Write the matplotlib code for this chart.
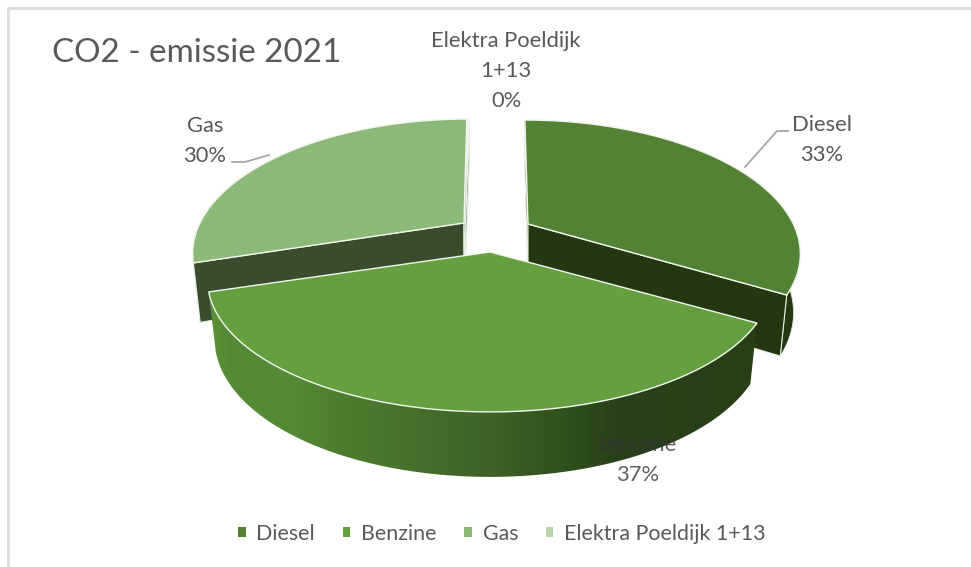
import numpy as np
import matplotlib
matplotlib.use("Agg")
import matplotlib.pyplot as plt
from matplotlib.patches import Polygon, Patch

plt.rcParams['font.family'] = ['Lato', 'DejaVu Sans']

title = "CO2 - emissie 2021"
categories = ["Diesel", "Benzine", "Gas", "Elektra Poeldijk 1+13"]
values = [33.4, 36.8, 29.7, 0.1]
top_colors = ["#548235", "#659f3f", "#8cb878", "#b9d5aa"]
wall_colors = ["#243713", "#243713", "#3a4c2e", "#8fa884"]
label_colors = ["#595959", "#333333", "#595959", "#595959"]
label_alpha = [1, 0.78, 1, 1]
label_pos = [(822, 125), (638, 445), (205, 126), (506, 41)]
label_text = ["Diesel", "Benzine", "Gas", "Elektra Poeldijk\n1+13"]

# layout of the drawn slices (pixel space)
apex = [(528, 224), (490, 252), (464, 223), (465, 223)]
shear = [-0.03, 0.0, 0.04, 0.04]
radius_scale = [0.99, 1.03, 0.985, 0.985]
R, S, K = 268.0, 126.0, 0.212
shrink = 0.975

grad_x = [205, 232, 291, 340, 486, 577, 616, 760]
grad_c = ["#5d9239", "#558a35", "#568a36", "#4f7d30", "#3f6327", "#2e4d1b", "#27411a", "#273f17"]
grad_rgb = np.array([matplotlib.colors.to_rgb(c) for c in grad_c])

fig = plt.figure(figsize=(9.71, 5.67), dpi=100)
ax = fig.add_axes([0, 0, 1, 1])
ax.axis("off")

ax.plot([7.5, 7.5, 971], [567, 8, 8], color="#dcdcdc", lw=2.0, solid_joinstyle="miter", zorder=1)


def project(i, t):
    t = np.asarray(t, float)
    u, v = np.sin(t), -np.cos(t)
    d = 1 - K * v
    ax0, ay0 = apex[i]
    y = S * v / d
    x = R * radius_scale[i] * u / d - shear[i] * y
    return ax0 + x, ay0 + y, v


def lower(i, x, y, v):
    return apex[i][0] + shrink * (x - apex[i][0]), y + 57 + 8 * v


fractions = np.array(values) / sum(values)
edges = np.concatenate([[0], np.cumsum(fractions)]) * 2 * np.pi
order = [3, 2, 0, 1]

for z, i in enumerate(order):
    zb = 10 + z * 5
    t = np.linspace(edges[i], edges[i + 1], 200)
    x, y, v = project(i, t)
    xl, yl = lower(i, x, y, v)
    a = apex[i]
    al = (a[0], a[1] + 57)
    rim = np.column_stack([np.r_[x, xl[::-1]], np.r_[y, yl[::-1]]])
    if i == 1:
        xs = np.linspace(190, 780, 590)
        img = np.stack([np.interp(xs, grad_x, grad_rgb[:, c]) for c in range(3)], axis=-1)[None, :, :]
        im = ax.imshow(img, extent=(190, 780, 500, 200), aspect="auto", zorder=zb,
                       interpolation="bilinear")
        clip = Polygon(rim, closed=True, transform=ax.transData, fc="none", ec="none")
        ax.add_patch(clip)
        im.set_clip_path(clip)
    else:
        ax.add_patch(Polygon(rim, closed=True, fc=wall_colors[i], ec="#e8efe4", lw=0.6, zorder=zb))
        for k in (0, -1):
            face = [a, (x[k], y[k]), (xl[k], yl[k]), al]
            ax.add_patch(Polygon(face, closed=True, fc=wall_colors[i], ec="#e8efe4", lw=0.8,
                                 zorder=zb + 1))
    pts = np.column_stack([np.r_[a[0], x], np.r_[a[1], y]])
    ax.add_patch(Polygon(pts, closed=True, fc=top_colors[i], ec="#f2f6ef", lw=1.0, zorder=zb + 2))

ax.set_xlim(0, 971)
ax.set_ylim(567, 0)

# leader lines
ax.plot([745, 777, 788], [167, 131, 131], color="#a6a6a6", lw=1.3, zorder=5)
ax.plot([232, 245, 269], [162, 162, 155], color="#a6a6a6", lw=1.3, zorder=5)

for i, name in enumerate(label_text):
    lx, ly = label_pos[i]
    lines = name.split("\n") + [f"{round(values[i]) if values[i] > 1 else 0}%"]
    for j, s in enumerate(lines):
        ax.text(lx, ly + j * 30, s, ha="center", va="center", fontsize=15.8,
                color=label_colors[i], alpha=label_alpha[i], zorder=50)

ax.text(52, 53, title, ha="left", va="center", fontsize=23.9, color="#595959", zorder=50)

handles = [Patch(fc=c, ec="none") for c in top_colors]
leg = ax.legend(handles, categories, ncol=4, frameon=False, loc="center",
                bbox_to_anchor=(502 / 971, 1 - 534 / 567), fontsize=15.4,
                labelcolor="#595959", handlelength=0.35, handleheight=0.35,
                handletextpad=0.5, columnspacing=1.3)

fig.savefig("out.png", dpi=100, facecolor="white")
